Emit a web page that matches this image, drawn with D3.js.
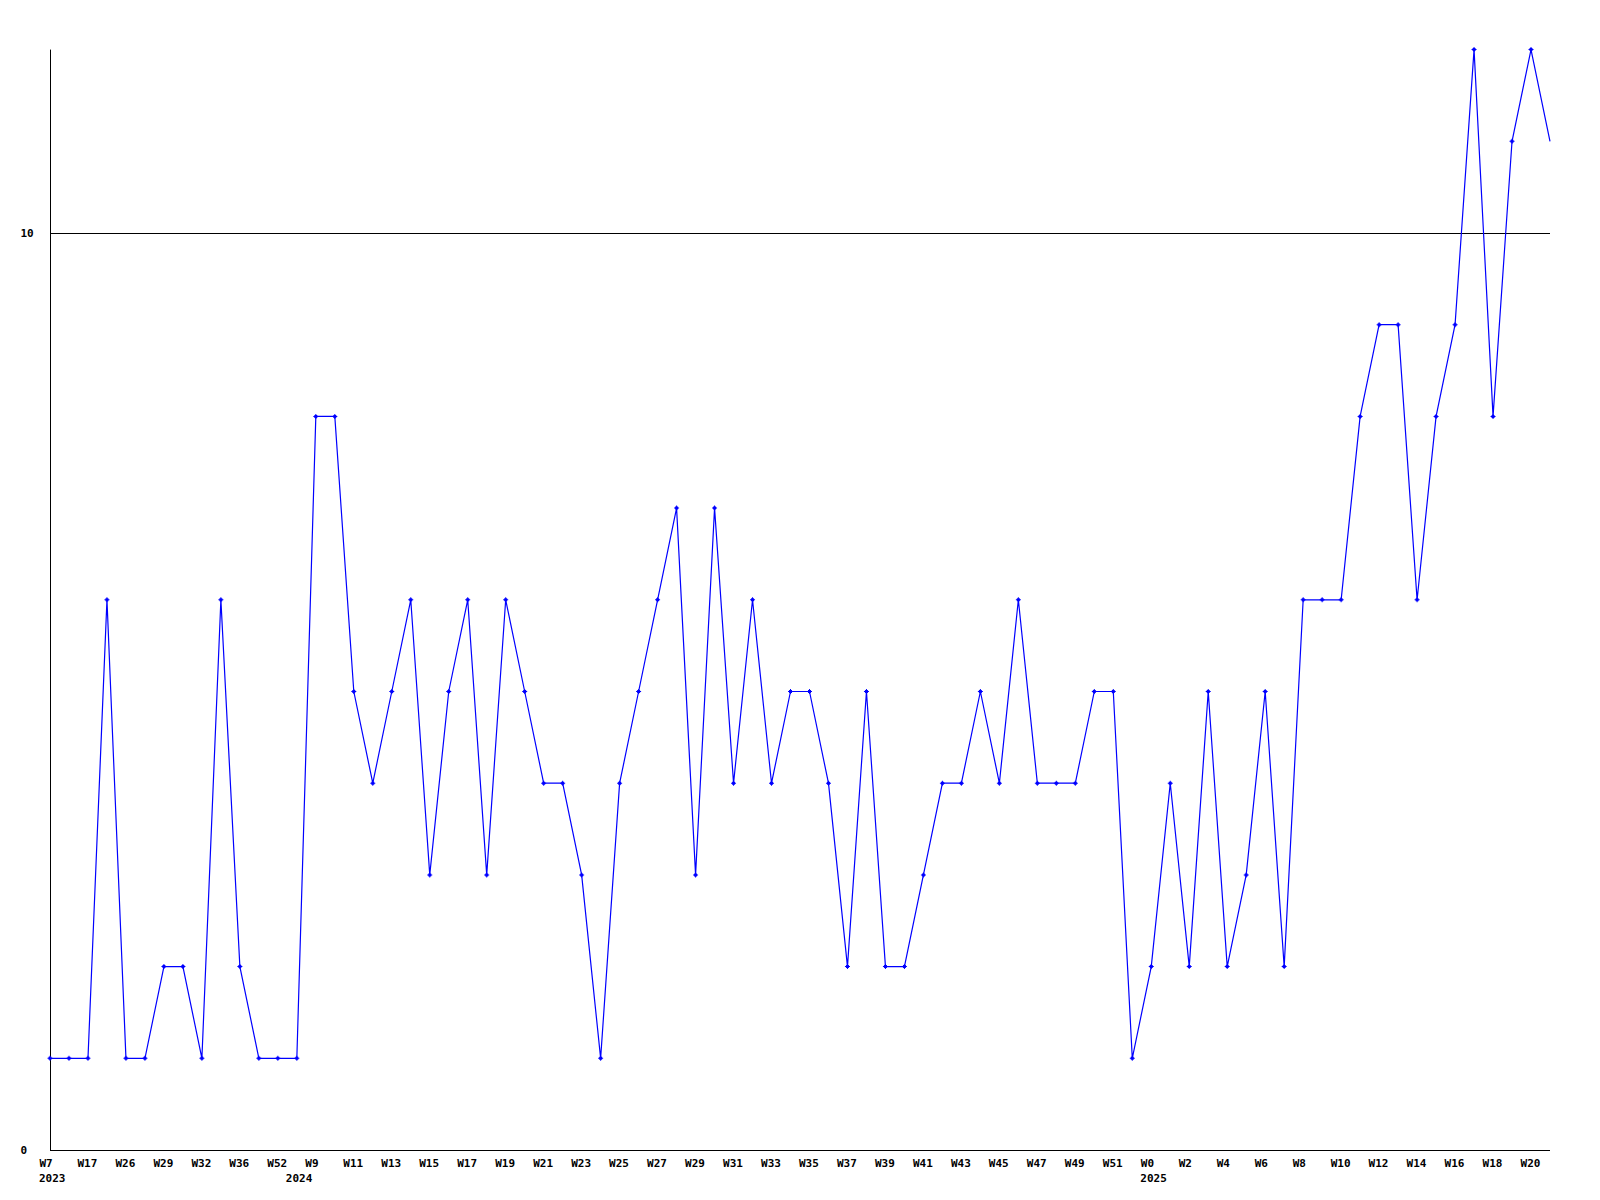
<!DOCTYPE html>
<html>
<head>
<meta charset="utf-8">
<script src="https://cdn.jsdelivr.net/npm/d3@7"></script>
<style>
  html, body { margin: 0; padding: 0; background: #ffffff; }
  svg { display: block; }
  text { font-family: "DejaVu Sans Mono", "Liberation Mono", monospace; font-weight: bold; font-size: 11px; fill: #000; }
</style>
</head>
<body>
<svg id="chart" width="1600" height="1200"></svg>
<script>
// ---- data ----
const weeks = [
  "W7","W12","W17","W20","W26","W27","W29","W30","W32","W34","W36","W40","W52",
  "W8","W9","W10","W11","W12","W13","W14","W15","W16","W17","W18","W19","W20",
  "W21","W22","W23","W24","W25","W26","W27","W28","W29","W30","W31","W32","W33",
  "W34","W35","W36","W37","W38","W39","W40","W41","W42","W43","W44","W45","W46",
  "W47","W48","W49","W50","W51","W52",
  "W0","W1","W2","W3","W4","W5","W6","W7","W8","W9","W10","W11","W12","W13",
  "W14","W15","W16","W17","W18","W19","W20","W21"
];
const values = [
  1,1,1,6,1,1,2,2,1,6,2,1,1,
  1,8,8,5,4,5,6,3,5,6,3,6,5,
  4,4,3,1,4,5,6,7,3,7,4,6,4,
  5,5,4,2,5,2,2,3,4,4,5,4,6,
  4,4,4,5,5,1,
  2,4,2,5,2,3,5,2,6,6,6,8,9,9,
  6,8,9,12,8,11,12,11
];
const yearLabels = ["2023","2024","2025"];
const yearStartIndex = [0, 13, 58];
const yTicks = [0, 10];

// ---- layout ----
const mLeft = 50, mRight = 1550, mTop = 49.6, mBottom = 1150;
const svg = d3.select("#chart");

const x = d3.scalePoint().domain(d3.range(values.length)).range([mLeft, mRight]);
const y = d3.scaleLinear().domain([0, 12]).range([mBottom, mTop]);

// horizontal line at 10
svg.append("line")
  .attr("x1", mLeft).attr("x2", mRight)
  .attr("y1", Math.round(y(10)) + 0.5).attr("y2", Math.round(y(10)) + 0.5)
  .attr("stroke", "#000").attr("stroke-width", 1);

// x axis
const xAxis = d3.axisBottom(x)
  .tickValues(d3.range(0, values.length, 2))
  .tickFormat(i => weeks[i])
  .tickSize(0).tickPadding(0);
const gx = svg.append("g").attr("transform", `translate(0,${mBottom + 0.5})`).call(xAxis);
gx.select(".domain").attr("stroke", "#000").attr("d", `M${mLeft},0H${mRight}`);
gx.selectAll("text")
  .attr("text-anchor", "start")
  .attr("dx", -11)
  .attr("y", 16.5).attr("dy", 0)
  .style("font-family", '"DejaVu Sans Mono", monospace')
  .style("font-weight", "bold").style("font-size", "11px");

// year labels
svg.append("g").selectAll("text")
  .data(yearLabels)
  .join("text")
  .attr("x", (d, k) => x(yearStartIndex[k]) - 11)
  .attr("y", mBottom + 32)
  .text(d => d);

// y axis
const yAxis = d3.axisLeft(y).tickValues(yTicks).tickFormat(d3.format("d")).tickSize(0).tickPadding(0);
const gy = svg.append("g").attr("transform", `translate(${mLeft + 0.5},0)`).call(yAxis);
gy.select(".domain").attr("stroke", "#000").attr("d", `M0,${mTop}V${mBottom}`);
gy.selectAll("text")
  .attr("text-anchor", "start")
  .attr("x", -30)
  .attr("dy", "0.32em")
  .style("font-family", '"DejaVu Sans Mono", monospace')
  .style("font-weight", "bold").style("font-size", "11px");

// line
const line = d3.line().x((d, i) => x(i)).y(d => y(d));
svg.append("path")
  .datum(values)
  .attr("d", line)
  .attr("fill", "none")
  .attr("stroke", "#0000ff")
  .attr("stroke-width", 1.2);

// markers (all but the last point)
const marker = "M-2.5,-0.5H2.5V0.5H-2.5Z M-0.5,-2.5H0.5V2.5H-0.5Z M-1.5,-1.5H1.5V1.5H-1.5Z";
svg.append("g").selectAll("path")
  .data(values.slice(0, values.length - 1))
  .join("path")
  .attr("transform", (d, i) => `translate(${x(i)},${y(d)})`)
  .attr("d", marker)
  .attr("fill", "#0000ff");
</script>
</body>
</html>
